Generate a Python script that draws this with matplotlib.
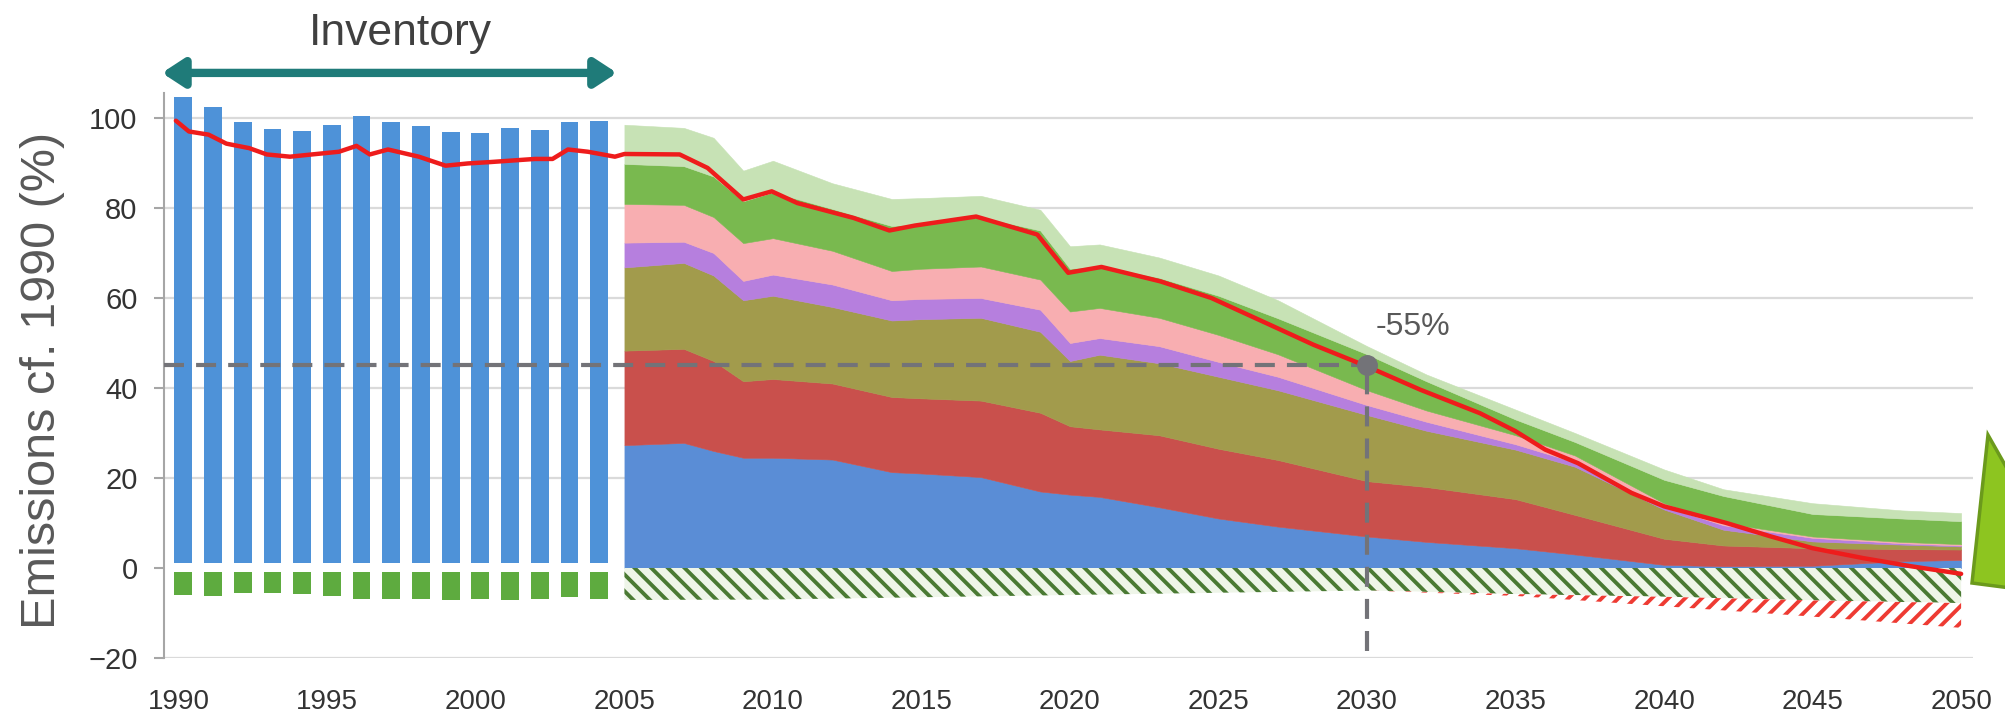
import numpy as np
import matplotlib
matplotlib.use('Agg')
import matplotlib.pyplot as plt
from matplotlib.patches import FancyArrowPatch, Polygon
from matplotlib.transforms import blended_transform_factory

plt.rcParams['font.family'] = ['Liberation Sans', 'DejaVu Sans']
plt.rcParams['hatch.linewidth'] = 2.8

# inventory bars 1990-2004 (gross emissions and LULUCF sink)
inv_years = np.arange(1990, 2005)
inv_gross = [104.6, 102.4, 99.2, 97.6, 97.2, 98.4, 100.5, 99.1, 98.3, 96.8,
             96.7, 97.8, 97.4, 99.1, 99.4]
inv_sink = [-6.0, -6.3, -5.5, -5.5, -5.8, -6.3, -6.9, -6.8, -6.9, -7.2,
            -6.8, -7.2, -6.8, -6.4, -6.9]

# projection: upper edge of each stacked band
proj_years = [2005, 2007, 2008, 2009, 2010, 2012, 2014, 2015, 2017, 2019, 2020, 2021,
              2023, 2025, 2027, 2030, 2032, 2035, 2037, 2040, 2042, 2045, 2048, 2050]
top_blue = [27.3, 27.8, 26.0, 24.5, 24.5, 24.1, 21.3, 21.0, 20.2, 17.0, 16.3, 15.8,
            13.5, 11.0, 9.2, 7.0, 5.8, 4.4, 3.0, 0.7, 0.4, 0.5, 1.5, 1.8]
top_red = [48.3, 48.7, 46.0, 41.5, 42.0, 41.0, 38.0, 37.7, 37.2, 34.5, 31.5, 30.8,
           29.5, 26.5, 24.0, 19.3, 18.0, 15.3, 11.8, 6.5, 5.0, 4.4, 4.2, 4.1]
top_olive = [66.8, 67.8, 65.0, 59.5, 60.5, 58.0, 55.0, 55.3, 55.6, 52.5, 46.0, 47.4,
             45.5, 42.5, 39.5, 34.0, 30.5, 26.3, 22.5, 13.0, 8.5, 5.9, 5.2, 4.8]
top_purple = [72.3, 72.5, 70.0, 63.8, 65.2, 63.0, 59.5, 59.8, 60.0, 57.4, 50.0, 51.1,
              49.3, 45.8, 42.5, 36.2, 32.5, 27.5, 23.5, 13.7, 9.5, 6.7, 5.5, 5.0]
top_pink = [80.9, 80.7, 78.0, 72.2, 73.3, 70.5, 66.0, 66.5, 67.0, 64.1, 57.0, 57.8,
            55.6, 51.8, 47.5, 39.5, 35.0, 29.5, 25.0, 14.4, 10.0, 7.0, 5.8, 5.3]
top_green = [89.8, 89.3, 87.0, 81.5, 83.5, 79.8, 76.0, 76.5, 78.0, 75.0, 66.5, 67.2,
             64.5, 60.5, 55.5, 47.5, 41.5, 33.0, 28.0, 19.6, 16.0, 12.0, 11.0, 10.4]
top_lightgreen = [98.5, 97.8, 95.6, 88.3, 90.5, 85.5, 82.0, 82.2, 82.7, 79.6, 71.5, 71.9,
                  69.0, 65.0, 59.5, 49.3, 43.0, 35.2, 30.0, 21.9, 17.5, 14.4, 12.8, 12.2]

# projected sinks (hatched)
sink_years = [2005, 2010, 2015, 2020, 2025, 2030, 2035, 2040, 2045, 2050]
sink_lulucf = [-7.1, -7.0, -6.5, -6.0, -5.5, -5.0, -5.8, -6.4, -7.2, -7.8]
sink_removals = [-7.1, -7.0, -6.5, -6.0, -5.5, -5.0, -6.2, -8.5, -10.8, -13.3]

# net emissions line
net_years = [1989.9, 1990.34, 1991.0, 1991.6, 1992.37, 1992.96, 1993.74, 1994.48, 1995.39,
             1995.98, 1996.43, 1997.04, 1998.08, 1998.98, 1999.73, 2000.47, 2001.99,
             2002.58, 2003.1, 2003.77, 2004.68, 2005.0, 2006.86, 2007.8, 2009.0, 2009.96,
             2010.82, 2012.71, 2013.92, 2014.78, 2016.84, 2018.9, 2019.94, 2021.06,
             2023.04, 2024.76, 2026.48, 2028.2, 2030.0, 2031.8, 2033.8, 2035.0, 2036.0,
             2037.1, 2038.9, 2040.0, 2042.1, 2043.6, 2045.0, 2046.7, 2048.3, 2050.0]
net_values = [99.4, 97.0, 96.3, 94.3, 93.3, 91.9, 91.4, 91.9, 92.5, 93.8, 91.9, 93.0,
              91.4, 89.4, 89.9, 90.2, 90.9, 90.9, 93.0, 92.5, 91.4, 92.0, 91.9, 88.9,
              81.9, 83.7, 81.1, 77.8, 75.0, 76.1, 78.1, 74.1, 65.6, 66.9, 63.7, 60.0,
              54.8, 49.6, 44.8, 39.6, 34.4, 30.4, 26.3, 23.3, 16.7, 13.7, 10.0, 7.0,
              4.4, 2.2, 0.4, -1.3]

target_year = 2030
target_value = 45
target_label = '-55%'

fig = plt.figure(figsize=(20.06, 7.18), dpi=100)
ax = fig.add_axes([0.08175, 0.08357, 0.9018, 0.78657])
ax.set_xlim(1989.5, 2050.4)
ax.set_ylim(-20, 105.5)

for g in [-20, 20, 40, 60, 80, 100]:
    ax.axhline(g, color='#dadada', lw=1.6, zorder=0)

# inventory bars
ax.bar(inv_years + 0.15, np.array(inv_gross) - 1.1, bottom=1.1, width=0.6,
       color='#4e92d8', zorder=1)
ax.bar(inv_years + 0.15, np.array(inv_sink) + 0.9, bottom=-0.9, width=0.6,
       color='#5eab3f', zorder=1)

# stacked projection bands
bands = [top_blue, top_red, top_olive, top_purple, top_pink, top_green, top_lightgreen]
colors = ['#5a8dd6', '#c9504c', '#a29b4c', '#b67fde', '#f8aeb1', '#79b94f', '#c7e2b5']
lower = np.zeros(len(proj_years))
for top, c in zip(bands, colors):
    ax.fill_between(proj_years, lower, top, facecolor=c, edgecolor=c, lw=0.4, zorder=1)
    lower = np.array(top)

# hatched sinks
ax.fill_between(sink_years, 0, sink_lulucf, facecolor='#eef5e8', edgecolor='#4a7a33',
                hatch='\\\\', lw=0, zorder=1)
ax.fill_between(sink_years, sink_lulucf, sink_removals, facecolor='white',
                edgecolor='#ee3b33', hatch='//', lw=0, zorder=1)

# net line
ax.plot(net_years, net_values, color='#ee1c1c', lw=3.2, zorder=4, solid_capstyle='round')

# 2030 target
dash = (0, (4.8, 2.9))
ax.hlines(target_value, 1989.5, target_year, colors='#737378', lw=3, linestyles=dash, zorder=3)
ax.vlines(target_year, -18.5, target_value, colors='#737378', lw=3, linestyles=dash, zorder=3)
ax.plot([target_year], [target_value], 'o', ms=14, color='#737378', zorder=5)
ax.text(target_year + 0.3, 53.5, target_label, ha='left', va='center', fontsize=23,
        color='#595959')

# axes styling
for s in ['top', 'right', 'bottom']:
    ax.spines[s].set_visible(False)
ax.spines['left'].set_color('#a6a6a6')
ax.spines['left'].set_linewidth(1.5)
ax.set_xticks(range(1990, 2051, 5))
ax.set_yticks(range(-20, 101, 20))
ax.tick_params(axis='x', length=0, pad=22, labelsize=20, labelcolor='#333333')
ax.tick_params(axis='y', length=7, width=1.5, color='#a6a6a6', pad=12, labelsize=21,
               labelcolor='#333333')

fig.text(43 / 2006, 1 - 380 / 718, 'Emissions cf. 1990 (%)', rotation=90, ha='center',
         va='center', fontsize=35, color='#595959')
fig.text(400 / 2006, 1 - 45 / 718, 'Inventory', ha='center', va='baseline', fontsize=32,
         color='#404040')

# inventory double arrow above the bars
trans = blended_transform_factory(ax.transData, ax.transAxes)
arr = FancyArrowPatch((1989.43, 1.036), (2004.75, 1.036), transform=trans,
                      arrowstyle='<|-|>,head_length=13,head_width=8.5', mutation_scale=1,
                      lw=6, color='#1f7b79', shrinkA=0, shrinkB=0, clip_on=False)
ax.add_patch(arr)

# green arrow cut off at the right edge
tri = Polygon([(1988 / 2006, 1 - 435 / 718), (1972 / 2006, 1 - 583 / 718),
               (2080 / 2006, 1 - 597 / 718)], closed=True, transform=fig.transFigure,
              facecolor='#8dc520', edgecolor='#6b9a1c', lw=2.5)
fig.add_artist(tri)

fig.savefig('out.png', dpi=100)
